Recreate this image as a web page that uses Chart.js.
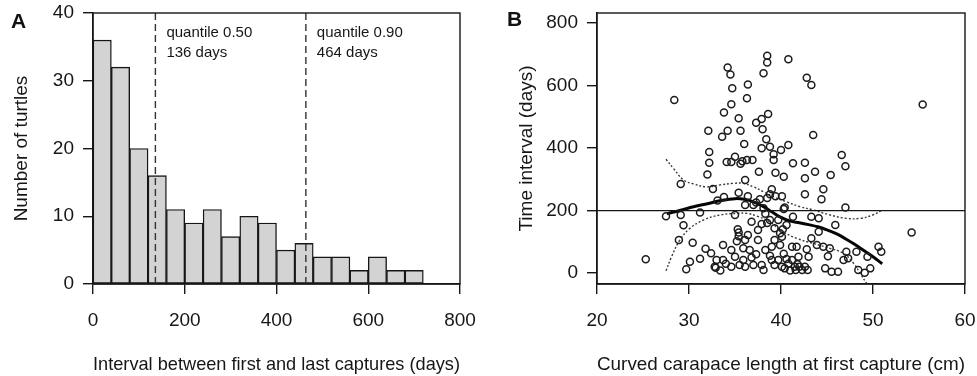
<!DOCTYPE html>
<html>
<head>
<meta charset="utf-8">
<script src="https://cdn.jsdelivr.net/npm/chart.js@4.4.1/dist/chart.umd.min.js"></script>
<style>
  body { margin: 0; background: #fff; }
  #wrap { position: relative; width: 977px; height: 376px; overflow: hidden; }
  canvas { position: absolute; top: 0; }
  .panel { position: absolute; font: bold 21px "Liberation Sans", Arial, sans-serif; color: #111; }
</style>
</head>
<body>
<div id="wrap">
  <canvas id="chartA" width="490" height="376" style="left:0"></canvas>
  <canvas id="chartB" width="487" height="376" style="left:490px"></canvas>
  <div class="panel" style="left:11px;top:9px">A</div>
  <div class="panel" style="left:507px;top:7px">B</div>
</div>
<script>
// panel A: histogram of days between first and last capture (40-day bins)
const binMids = [20, 60, 100, 140, 180, 220, 260, 300, 340, 380, 420, 460, 500, 540, 580, 620, 660, 700];
const turtleCounts = [36, 32, 20, 16, 11, 9, 11, 7, 10, 9, 5, 6, 4, 4, 2, 4, 2, 2];
const quantileDays = [136, 464];
const quantileNotes = [["quantile 0.50", "136 days"], ["quantile 0.90", "464 days"]];
const xTicksA = [0, 200, 400, 600, 800];
const yTicksA = [0, 10, 20, 30, 40];

// panel B: carapace length (cm) vs time interval (days)
const cclCm = [
  28.4, 34.2, 34.5, 36.4, 34.7, 36.3, 34.6, 33.8, 35.4, 32.1, 34.2, 33.6, 35.6, 36.0, 38.5, 38.5,
  40.8, 38.1, 42.8, 43.3, 38.6, 37.9, 37.3, 38.0, 43.5, 38.4, 37.9, 38.8, 40.0, 40.8, 55.4,
  32.2, 32.2, 32.0, 34.1, 34.6, 35.0, 35.6, 35.8, 36.3, 36.9, 39.2, 39.2, 41.3, 37.6, 39.4,
  40.3, 36.1, 42.6, 43.7, 45.4, 42.6, 46.6, 47.0,
  29.1, 32.6, 33.1, 33.8, 35.4, 36.4, 37.7, 39.0, 38.8, 39.4, 40.1, 36.1, 37.0, 38.1, 40.4,
  42.6, 44.6, 44.4, 47.0, 38.5, 37.3,
  27.5, 29.1, 29.4, 28.9, 30.4, 31.2, 35.0, 36.8, 37.9, 38.8, 39.7, 37.5, 39.3, 39.9, 40.6,
  35.3, 35.4, 35.4, 35.2, 36.1, 36.4, 37.5, 39.3, 40.1, 43.3, 44.1, 45.9, 44.1, 43.3, 54.2,
  40.3, 41.3, 38.3, 38.5, 40.2,
  25.3, 29.7, 30.1, 31.2, 31.8, 32.4, 32.8, 32.9, 33.7, 34.6, 35.9, 36.6, 38.3, 39.0, 39.9,
  41.2, 33.0, 33.7, 35.0, 35.9, 34.6, 35.5, 36.1, 37.0, 37.9, 38.1, 39.0, 39.3, 39.7, 40.1,
  40.4, 41.2, 41.5, 41.9, 41.7, 43.9, 44.6, 45.3, 42.8, 43.0, 45.1, 47.1, 46.8, 47.3, 48.2,
  49.4, 50.6, 50.9, 44.8, 45.5, 46.2, 48.4, 49.1, 49.7, 41.6, 42.0, 42.3, 42.6, 42.9, 41.8,
  40.8, 41.0, 40.6, 36.8, 34.0, 33.4, 37.3, 38.8, 40.3
];
const intervalDays = [
  554, 658, 635, 603, 591, 559, 540, 514, 495, 455, 455, 436, 455, 413, 695, 674,
  684, 639, 625, 602, 509, 493, 481, 460, 442, 428, 399, 404, 394, 410, 539,
  387, 353, 315, 355, 355, 372, 350, 358, 362, 362, 380, 362, 351, 324, 321,
  308, 298, 353, 324, 314, 303, 378, 342,
  285, 269, 232, 243, 257, 246, 236, 268, 252, 246, 246, 218, 218, 207, 210,
  252, 268, 236, 210, 240, 226,
  182, 186, 153, 106, 97, 194, 186, 164, 157, 170, 170, 138, 143, 127, 154,
  140, 130, 118, 102, 106, 122, 106, 106, 116, 180, 175, 154, 132, 111, 130,
  205, 180, 190, 160, 140,
  44, 12, 36, 46, 78, 63, 20, 17, 90, 74, 79, 74, 74, 84, 90,
  84, 42, 42, 52, 42, 20, 26, 20, 26, 26, 10, 42, 26, 42, 20,
  15, 42, 20, 52, 84, 90, 84, 79, 76, 52, 54, 68, 42, 47, 68,
  52, 84, 68, 15, 4, 4, 10, 1, 15, 10, 20, 10, 20, 10, 28,
  30, 8, 45, 50, 30, 8, 60, 55, 62
];
const fitCcl = [27.6, 29, 30.5, 32, 33.5, 35, 36, 37, 38, 39, 40, 41, 42, 43, 44, 45, 46, 47, 48, 49, 50, 51];
const fitDays = [190, 200, 212, 222, 232, 238, 236, 228, 214, 196, 178, 166, 161, 155, 148, 138, 126, 110, 92, 72, 52, 30];
const upperCcl = [27.5, 28.3, 29.4, 30.5, 31.9, 33.4, 34.8, 35.9, 37.0, 38.1, 39.2, 40.6, 42.1, 43.5, 45.3, 47.1, 48.6, 50.0, 51.0];
const upperDays = [364, 335, 298, 285, 276, 282, 287, 287, 276, 260, 244, 228, 212, 202, 186, 175, 175, 186, 202];
const lowerCcl = [27.5, 28.1, 29.0, 30.1, 31.6, 33.4, 35.2, 36.3, 37.4, 38.8, 39.9, 41.7, 43.5, 45.3, 46.8, 47.9, 48.6, 49.3];
const lowerDays = [7, 52, 105, 143, 170, 186, 191, 191, 182, 164, 138, 111, 95, 79, 63, 31, -1, -33];
const referenceDays = 200;
const xTicksB = [20, 30, 40, 50, 60];
const yTicksB = [0, 200, 400, 600, 800];

const ink = "#161616";
const fontFam = '"Liberation Sans", Arial, sans-serif';
const tickFont = { family: fontFam, size: 19 };
const titleFont = { family: fontFam, size: 19 };

function pairs(xs, ys) {
  return xs.map((x, i) => ({ x: x, y: ys[i] }));
}

// box around the plotting region
const frame = {
  id: "frame",
  afterDatasetsDraw(chart) {
    const a = chart.chartArea;
    const ctx = chart.ctx;
    ctx.save();
    ctx.strokeStyle = ink;
    ctx.lineWidth = 1.4;
    ctx.strokeRect(a.left, a.top, a.right - a.left, a.bottom - a.top);
    ctx.restore();
  }
};

// quantile text next to the dashed lines
const quantileText = {
  id: "quantileText",
  afterDatasetsDraw(chart) {
    const ctx = chart.ctx;
    const xs = chart.scales.x;
    ctx.save();
    ctx.fillStyle = ink;
    ctx.font = "15px " + fontFam;
    ctx.textBaseline = "middle";
    quantileDays.forEach((d, i) => {
      const px = xs.getPixelForValue(d) + 11;
      ctx.fillText(quantileNotes[i][0], px, 33);
      ctx.fillText(quantileNotes[i][1], px, 53);
    });
    ctx.restore();
  }
};

// fixed axis box size, and no extra room asked for the end labels
function fixSize(size, vertical) {
  return s => {
    if (vertical) s.width = size; else s.height = size;
    s.paddingTop = 0; s.paddingBottom = 0; s.paddingLeft = 0; s.paddingRight = 0;
  };
}

function axisStyle(extra) {
  return Object.assign({
    offset: false,
    grid: { display: true, offset: false, drawOnChartArea: false, drawTicks: true, tickLength: 10, color: ink, lineWidth: 1.4 },
    border: { display: true, color: ink, width: 1.4 },
  }, extra);
}

const chartA = new Chart(document.getElementById("chartA"), {
  type: "bar",
  data: {
    datasets: [
      {
        type: "bar",
        order: 2,
        data: pairs(binMids, turtleCounts),
        backgroundColor: "#d3d3d3",
        borderColor: ink,
        borderWidth: 1.4,
        borderSkipped: false,
        barPercentage: 1,
        categoryPercentage: 1
      },
      ...quantileDays.map(d => ({
        type: "line",
        order: 1,
        data: [{ x: d, y: 0 }, { x: d, y: 40 }],
        borderColor: "#333",
        borderWidth: 1.4,
        borderDash: [7, 4],
        pointRadius: 0
      }))
    ]
  },
  options: {
    responsive: false,
    animation: false,
    layout: { padding: { left: 0, right: 30, top: 13, bottom: 0 } },
    plugins: { legend: { display: false }, tooltip: { enabled: false } },
    scales: {
      x: axisStyle({
        type: "linear", min: 0, max: 800,
        afterBuildTicks: s => { s.ticks = xTicksA.map(v => ({ value: v })); },
        ticks: { color: ink, font: tickFont, padding: 15, maxRotation: 0 },
        title: { display: true, text: "Interval between first and last captures (days)", color: ink, font: titleFont, padding: { top: 0, bottom: 0 } },
        afterFit: fixSize(92, false)
      }),
      y: axisStyle({
        min: 0, max: 40,
        afterBuildTicks: s => { s.ticks = yTicksA.map(v => ({ value: v })); },
        ticks: { color: ink, font: tickFont, padding: 9 },
        title: { display: true, text: "Number of turtles", color: ink, font: titleFont, padding: { top: 10, bottom: 0 } },
        afterFit: fixSize(93, true)
      })
    }
  },
  plugins: [frame, quantileText]
});

const chartB = new Chart(document.getElementById("chartB"), {
  type: "scatter",
  data: {
    datasets: [
      {
        data: pairs(cclCm, intervalDays),
        pointStyle: "circle",
        pointRadius: 3.5,
        pointBorderWidth: 1.5,
        pointBorderColor: "#1c1c1c",
        pointBackgroundColor: "rgba(0,0,0,0)",
        showLine: false
      },
      {
        data: [{ x: 20, y: referenceDays }, { x: 60, y: referenceDays }],
        showLine: true, borderColor: ink, borderWidth: 1.3, pointRadius: 0
      },
      {
        data: pairs(upperCcl, upperDays),
        showLine: true, borderColor: "#3a3a3a", borderWidth: 1.4, borderDash: [2, 2], pointRadius: 0, tension: 0.4
      },
      {
        data: pairs(lowerCcl, lowerDays),
        showLine: true, borderColor: "#3a3a3a", borderWidth: 1.4, borderDash: [2, 2], pointRadius: 0, tension: 0.4
      },
      {
        data: pairs(fitCcl, fitDays),
        showLine: true, borderColor: "#050505", borderWidth: 3, pointRadius: 0, tension: 0.4
      }
    ]
  },
  options: {
    responsive: false,
    animation: false,
    layout: { padding: { left: 0, right: 12, top: 13, bottom: 0 } },
    plugins: { legend: { display: false }, tooltip: { enabled: false } },
    scales: {
      x: axisStyle({
        type: "linear", min: 20, max: 60,
        afterBuildTicks: s => { s.ticks = xTicksB.map(v => ({ value: v })); },
        ticks: { color: ink, font: tickFont, padding: 15, maxRotation: 0 },
        title: { display: true, text: "Curved carapace length at first capture (cm)", color: ink, font: titleFont, padding: { top: 0, bottom: 0 } },
        afterFit: fixSize(92, false)
      }),
      y: axisStyle({
        min: -35, max: 832,
        afterBuildTicks: s => { s.ticks = yTicksB.map(v => ({ value: v })); },
        ticks: { color: ink, font: tickFont, padding: 9 },
        title: { display: true, text: "Time interval (days)", color: ink, font: titleFont, padding: { top: 25, bottom: 0 } },
        afterFit: fixSize(107, true)
      })
    }
  },
  plugins: [frame]
});
</script>
</body>
</html>
